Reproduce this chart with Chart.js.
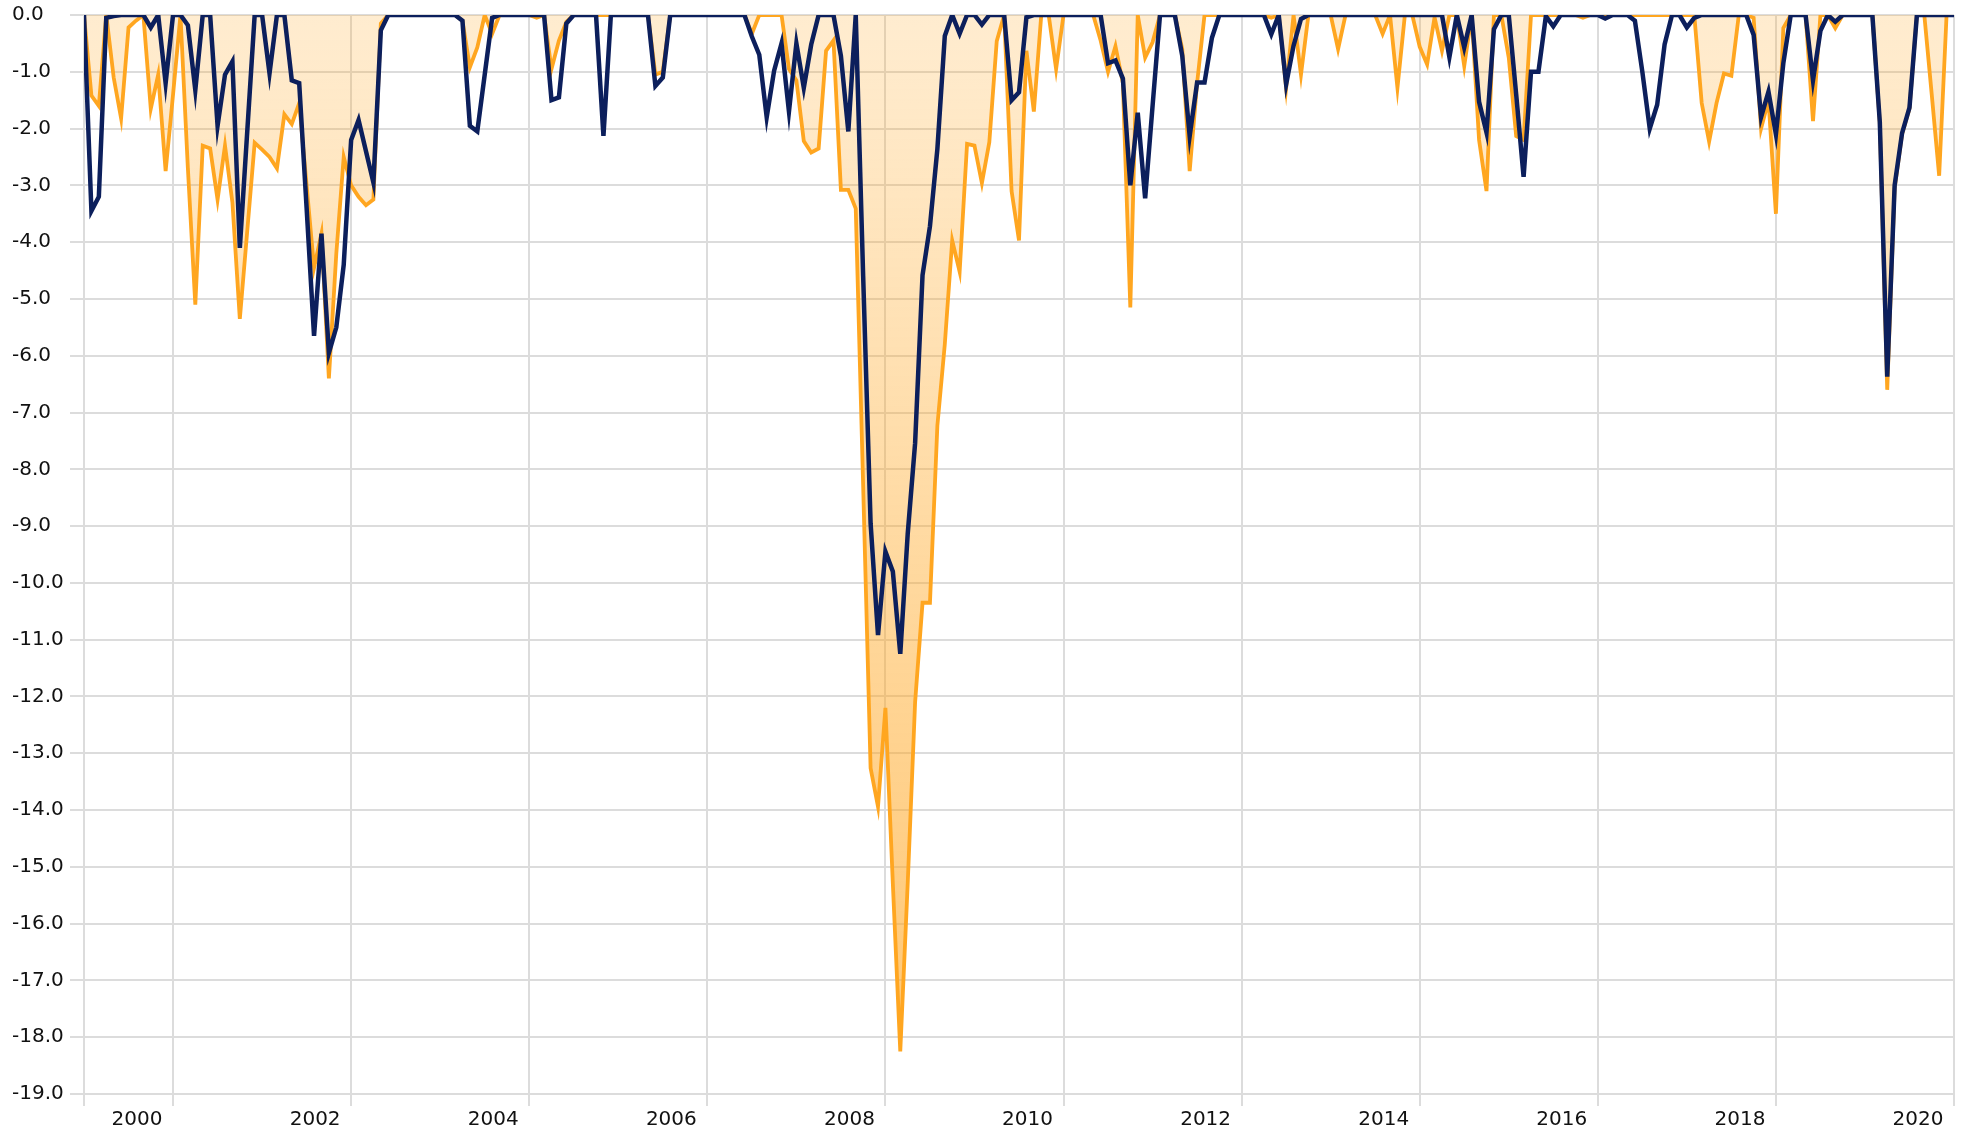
<!DOCTYPE html>
<html>
<head>
<meta charset="utf-8">
<script src="https://cdn.jsdelivr.net/npm/chart.js@4/dist/chart.umd.min.js"></script>
<style>
  html, body { margin: 0; padding: 0; background: #fff; }
</style>
</head>
<body>
<canvas id="drawdownChart" width="1971" height="1130"></canvas>
<script>
// year labels on the x axis, one every two years
const yearLabels = ["2000", "2002", "2004", "2006", "2008", "2010", "2012", "2014", "2016", "2018", "2020"];

// monthly drawdown, orange area series (%)
const drawdownA = [
  0, -1.42, -1.6, 0, -1.1, -1.82, -0.22, -0.1, 0, -1.65,
  -1.05, -2.75, -1.4, 0, -2.7, -5.1, -2.3, -2.35, -3.25, -2.3,
  -3.3, -5.35, -3.8, -2.25, -2.37, -2.5, -2.7, -1.75, -1.92, -1.55,
  -3.0, -4.45, -3.85, -6.4, -4.2, -2.5, -3.0, -3.2, -3.35, -3.25,
  -0.15, 0, 0, 0, 0, 0, 0, 0, 0, 0,
  0, -0.1, -0.92, -0.57, 0, -0.33, 0, 0, 0, 0,
  0, -0.05, 0, -0.95, -0.45, -0.12, 0, 0, 0, 0,
  0, 0, 0, 0, 0, 0, 0, -1.05, -1.0, 0,
  0, 0, 0, 0, 0, 0, 0, 0, 0, 0,
  -0.33, 0, 0, 0, 0, -0.95, -1.15, -2.22, -2.42, -2.35,
  -0.63, -0.45, -3.08, -3.08, -3.41, -8.3, -13.26, -13.94, -12.2, -15.3,
  -18.25, -15.3, -12.1, -10.35, -10.35, -7.23, -5.8, -3.97, -4.52, -2.27,
  -2.3, -2.96, -2.24, -0.46, 0, -3.1, -3.97, -0.63, -1.7, 0,
  0, -0.95, 0, 0, 0, 0, 0, -0.45, -1.0, -0.55,
  -1.2, -5.15, 0, -0.75, -0.48, 0, 0, 0, -0.6, -2.75,
  -1.2, 0, 0, 0, 0, 0, 0, 0, 0, 0,
  -0.05, 0, -1.28, 0, -1.05, 0, 0, 0, 0, -0.6,
  0, 0, 0, 0, 0, -0.33, 0, -1.28, 0, 0,
  -0.56, -0.87, -0.04, -0.63, 0, 0, -0.9, 0, -2.2, -3.1,
  0, 0, -0.75, -2.13, -2.2, 0, 0, 0, 0, 0,
  0, 0, -0.05, 0, 0, 0, 0, 0, 0, 0,
  0, 0, 0, 0, 0, 0, 0, 0, -1.55, -2.23,
  -1.55, -1.03, -1.07, 0, 0, -0.05, -2.0, -1.5, -3.5, -0.23,
  0, 0, 0, -1.87, 0, 0, -0.23, 0, 0, 0,
  0, 0, -1.9, -6.6, -3.05, -2.1, -1.65, 0, 0, -1.4,
  -2.83, 0, 0
];

// monthly drawdown, navy line series (%)
const drawdownB = [
  0, -3.45, -3.2, -0.05, -0.02, 0, 0, 0, 0, -0.22,
  0, -1.2, 0, 0, -0.18, -1.32, 0, 0, -1.95, -1.05,
  -0.82, -4.1, -2.05, 0, 0, -1.03, 0, 0, -1.15, -1.2,
  -3.4, -5.65, -3.85, -5.95, -5.5, -4.4, -2.2, -1.85, -2.4, -2.95,
  -0.27, 0, 0, 0, 0, 0, 0, 0, 0, 0,
  0, -0.1, -1.95, -2.05, -1.05, -0.05, 0, 0, 0, 0,
  0, 0, 0, -1.5, -1.45, -0.15, 0, 0, 0, 0,
  -2.13, 0, 0, 0, 0, 0, 0, -1.25, -1.1, 0,
  0, 0, 0, 0, 0, 0, 0, 0, 0, 0,
  -0.38, -0.7, -1.8, -0.98, -0.5, -1.7, -0.5, -1.28, -0.52, 0,
  0, 0, -0.72, -2.05, 0, -4.6, -8.95, -10.92, -9.45, -9.8,
  -11.25, -9.14, -7.54, -4.58, -3.72, -2.36, -0.37, 0, -0.33, 0,
  0, -0.17, 0, 0, 0, -1.5, -1.36, -0.04, 0, 0,
  0, 0, 0, 0, 0, 0, 0, 0, -0.85, -0.8,
  -1.12, -3.0, -1.72, -3.23, -1.6, 0, 0, 0, -0.72, -2.13,
  -1.19, -1.19, -0.4, 0, 0, 0, 0, 0, 0, 0,
  -0.34, 0, -1.22, -0.54, -0.07, 0, 0, 0, 0, 0,
  0, 0, 0, 0, 0, 0, 0, 0, 0, 0,
  0, 0, 0, 0, -0.74, 0, -0.57, 0, -1.53, -2.07,
  -0.25, 0, 0, -1.4, -2.85, -1.0, -1.0, -0.02, -0.2, 0,
  0, 0, 0, 0, 0, -0.06, 0, 0, 0, -0.1,
  -1.0, -2.0, -1.58, -0.52, 0, 0, -0.22, -0.05, 0, 0,
  0, 0, 0, 0, 0, -0.35, -1.8, -1.35, -2.1, -0.85,
  0, 0, 0, -1.15, -0.28, 0, -0.12, 0, 0, 0,
  0, 0, -1.88, -6.37, -3.0, -2.08, -1.63, 0, 0, 0,
  0, 0, 0
];

const FONT = { family: "'DejaVu Sans', Verdana, sans-serif", size: 20 };
const GRID = "#dcdcdc";
const TEXT = "#111111";

//========================================================================
const areaFill = ctx => {
  const area = ctx.chart.chartArea;
  if (!area) {
    return "rgba(255, 166, 32, 0.3)";
  }
  const g = ctx.chart.ctx.createLinearGradient(0, area.top, 0, area.bottom);
  g.addColorStop(0, "rgba(255, 166, 32, 0.21)");
  g.addColorStop(1, "rgba(255, 166, 32, 0.64)");
  return g;
};

const toPoints = list => list.map((y, x) => ({ x, y }));

//========================================================================
new Chart(document.getElementById("drawdownChart"), {
  type: "line",
  data: {
    datasets: [
      {
        data: toPoints(drawdownB),
        borderColor: "#0c1f5c",
        borderWidth: 4.5,
        fill: false,
        order: 0
      },
      {
        data: toPoints(drawdownA),
        borderColor: "#ffa620",
        borderWidth: 3.8,
        fill: "origin",
        backgroundColor: areaFill,
        order: 1
      }
    ]
  },
  options: {
    responsive: false,
    animation: false,
    layout: { padding: { left: 12, right: 17, top: 0, bottom: 0 } },
    elements: {
      point: { radius: 0 },
      line: { tension: 0 }
    },
    plugins: {
      legend: { display: false },
      tooltip: { enabled: false }
    },
    scales: {
      x: {
        type: "linear",
        min: 0,
        max: drawdownA.length - 1,
        afterBuildTicks: scale => {
          scale.ticks = [0].concat(yearLabels.map((_, k) => 12 + 24 * k)).map(value => ({ value }));
        },
        afterFit: scale => {
          scale.height = 36;
          scale.paddingLeft = 0;
          scale.paddingRight = 0;
        },
        ticks: {
          autoSkip: false,
          maxRotation: 0,
          labelOffset: -36,
          padding: 2,
          color: TEXT,
          font: FONT,
          callback: value => yearLabels[(value - 12) / 24] ?? ""
        },
        grid: { color: GRID, lineWidth: 2, tickLength: 12 },
        border: { display: false }
      },
      y: {
        min: -19,
        max: 0,
        afterFit: scale => { scale.width = 72; },
        ticks: {
          stepSize: 1,
          crossAlign: "far",
          color: TEXT,
          font: FONT,
          callback: value => value.toFixed(1)
        },
        grid: { color: GRID, lineWidth: 2, tickLength: 14 },
        border: { display: false }
      }
    }
  }
});
</script>
</body>
</html>
